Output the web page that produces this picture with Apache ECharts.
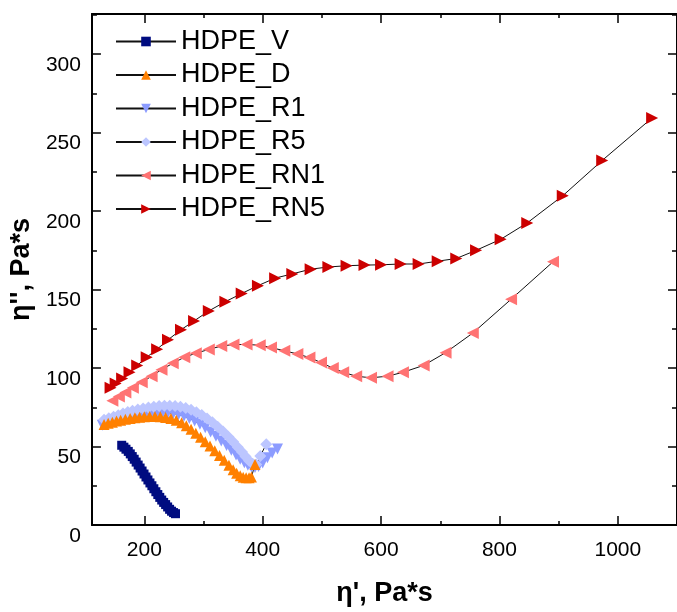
<!DOCTYPE html>
<html><head><meta charset="utf-8">
<script src="https://cdn.jsdelivr.net/npm/echarts@6/dist/echarts.min.js"></script>
<style>html,body{margin:0;padding:0;background:#fff}#c{width:677px;height:612px}</style>
</head><body><div id="c"></div>
<script>
const FONT = "'Liberation Sans', Arial, sans-serif";
const names = ['HDPE_V','HDPE_D','HDPE_R1','HDPE_R5','HDPE_RN1','HDPE_RN5'];
const xMajor = [200,400,600,800,1000];
const xMinor = [200,300,400,500,600,700,800,900,1000];
const yMajor = [0,50,100,150,200,250,300];
const yMinor = [0,25,50,75,100,125,150,175,200,225,250,275,300,325];

const vX = [161.8,165.5,169,172.9,176.3,179.6,182.9,186.2,189.6,192.9,196.2,199.5,202.8,206.1,209.5,212.8,216.1,219.5,222.8,226.1,229.4,232.7,236,239.4,242.7,246,249.4,252.7];
const vY = [50.8,49.6,48.3,46.9,45.3,43.6,41.9,40.1,38.2,36.3,34.4,32.5,30.6,28.7,26.8,25.0,23.1,21.2,19.4,17.6,15.9,14.4,13,11.5,10.0,8.8,7.9,7.2];

const dX = [132,139,146,153,160,168,176,184,192,200,209,218,227,236,245,254,263,271,279,287,295,303,311,319,327,335,343,350,356,362,367,372,377,381,387];
const dY = [64.0,64.8,65.5,66.2,66.8,67.4,67.9,68.3,68.7,69.0,69.1,69.1,68.9,68.5,67.8,66.7,65.2,63.3,61.0,58.5,55.9,53.1,50.3,47.3,44.3,41.2,38.0,35.2,33.0,31.4,30.5,30.1,30.1,30.6,38.5];

const r1X = [129,137,145,153,161,169,177,186,195,204,213,222,231,240,249,258,267,276,285,294,303,312,321,330,339,347,355,362,369,375,381,387,393,400,408,416,425];
const r1Y = [63.5,64.5,65.5,66.5,67.5,68.3,69.0,69.7,70.3,70.8,71.2,71.5,71.6,71.5,71.1,70.4,69.3,67.9,66.2,64.2,61.9,59.3,56.5,53.6,50.6,47.6,44.6,41.9,39.7,38.0,37.0,36.7,37.3,39.5,42.8,45.8,48.5];

const r5X = [132,140,148,156,164,172,180,189,198,207,216,225,234,243,252,261,270,279,288,297,306,315,324,333,342,350,358,365,371,377,383,389,396,406];
const r5Y = [67.0,68.0,69.0,70.0,71.0,72.0,72.8,73.6,74.3,74.9,75.4,75.8,76.0,76.0,75.8,75.3,74.5,73.4,71.9,70.1,67.9,65.4,62.6,59.5,56.2,53.0,49.6,46.5,43.7,41.0,39.0,38.5,44.0,51.5];

const rn1X = [146,157,168,180.7,195.7,212.3,229,248,267.6,287,309,330,350.7,372.8,395,414,436.5,458.6,479,498.5,518.5,536,558,583,611,637,672,709,755,819.6,890.5];
const rn1Y = [79.2,81.9,84.4,87.5,91,94.8,99,103,106.9,109.4,111.9,114,115,115,114.6,113.1,111,109,106.7,103.5,100,97.3,94.8,93.8,94.8,97.3,101.7,109.8,122.3,143.8,167.7];

const rn5X = [143,151.5,162.5,175,188,204,221.6,240,262,284,309,337,364.5,392,421,450,481,511,541.7,572,600,633,663.5,695.7,727,760.5,802,847,907,973.6,1058];
const rn5Y = [87.5,90.2,93.3,97.3,101.7,106.9,112,118,124.4,130,136.4,142.3,147.5,152.5,157.3,160,163,164.4,165.2,165.6,165.8,166.3,166.3,168.1,169.8,175,182,192.5,209.8,232.3,259.4];

const pairs = (xs, ys) => xs.map((x, i) => [x, ys[i]]);

const styles = {
  HDPE_V:   {symbol:'rect', size:9, rot:0, color:'#000C80', data:pairs(vX,vY)},
  HDPE_D:   {symbol:'triangle', size:11, rot:0, color:'#FF8000', data:pairs(dX,dY)},
  HDPE_R1:  {symbol:'triangle', size:11, rot:180, color:'#8C9CFF', data:pairs(r1X,r1Y)},
  HDPE_R5:  {symbol:'diamond', size:12, rot:0, color:'#BCC6FF', data:pairs(r5X,r5Y)},
  HDPE_RN1: {symbol:'triangle', size:12, rot:90, color:'#FF7373', data:pairs(rn1X,rn1Y)},
  HDPE_RN5: {symbol:'triangle', size:12, rot:-90, color:'#CC0000', data:pairs(rn5X,rn5Y)}
};

const drawOrder = ['HDPE_RN5','HDPE_RN1','HDPE_R1','HDPE_R5','HDPE_D','HDPE_V'];
const series = drawOrder.map(n => ({
  name: n, type: 'line', data: styles[n].data,
  symbol: styles[n].symbol, symbolSize: styles[n].size, symbolRotate: styles[n].rot,
  itemStyle: {color: styles[n].color},
  lineStyle: {color: '#111', width: 1},
  xAxisIndex: 0, yAxisIndex: 0, animation: false
}));

const X_MIN = 111.5, X_MAX = 1100, Y_MIN = 0, Y_MAX = 325.6;
const axLine = {show: true, onZero: false, lineStyle: {color: '#000', width: 2}};
function xAx(pos, major, withLabel) {
  return {
    type: 'value', min: X_MIN, max: X_MAX, position: pos,
    axisLine: major ? axLine : {show: false, onZero: false},
    axisTick: {show: true, inside: true, length: major ? 9 : 4, customValues: major ? xMajor : xMinor, lineStyle: {color: '#000', width: 1.5}},
    axisLabel: withLabel ? {show: true, customValues: xMajor, formatter: v => String(v), margin: 15, fontSize: 21, color: '#000', fontFamily: FONT} : {show: false},
    splitLine: {show: false},
    name: withLabel ? "\u03b7', Pa*s" : '',
    nameLocation: 'middle', nameGap: 55,
    nameTextStyle: {fontSize: 27, fontWeight: 'bold', color: '#000', fontFamily: FONT}
  };
}
function yAx(pos, major, withLabel) {
  return {
    type: 'value', min: Y_MIN, max: Y_MAX, position: pos,
    axisLine: major ? axLine : {show: false, onZero: false},
    axisTick: {show: true, inside: true, length: major ? 9 : 5, customValues: major ? yMajor : yMinor, lineStyle: {color: '#000', width: 1.5}},
    axisLabel: withLabel ? {show: true, customValues: yMajor, formatter: v => String(v), margin: 11, fontSize: 21, color: '#000', fontFamily: FONT, verticalAlign: 'top', lineHeight: 22} : {show: false},
    splitLine: {show: false},
    name: withLabel ? "\u03b7'', Pa*s" : '',
    nameLocation: 'middle', nameGap: 54,
    nameTextStyle: {fontSize: 27, fontWeight: 'bold', color: '#000', fontFamily: FONT}
  };
}

const chart = echarts.init(document.getElementById('c'), null, {renderer: 'canvas'});
chart.setOption({
  animation: false,
  backgroundColor: '#fff',
  grid: {left: 91, top: 14, width: 595.2, height: 521, containLabel: false},
  legend: {
    orient: 'vertical', left: 115, top: 28, padding: 0,
    itemWidth: 60, itemHeight: 12, itemGap: 6.5,
    textStyle: {fontSize: 27, color: '#000', fontFamily: FONT},
    data: names
  },
  xAxis: [xAx('bottom', true, true), xAx('bottom', false, false), xAx('top', true, false), xAx('top', false, false)],
  yAxis: [yAx('left', true, true), yAx('left', false, false), yAx('right', true, false), yAx('right', false, false)],
  series: series
});
</script></body></html>
